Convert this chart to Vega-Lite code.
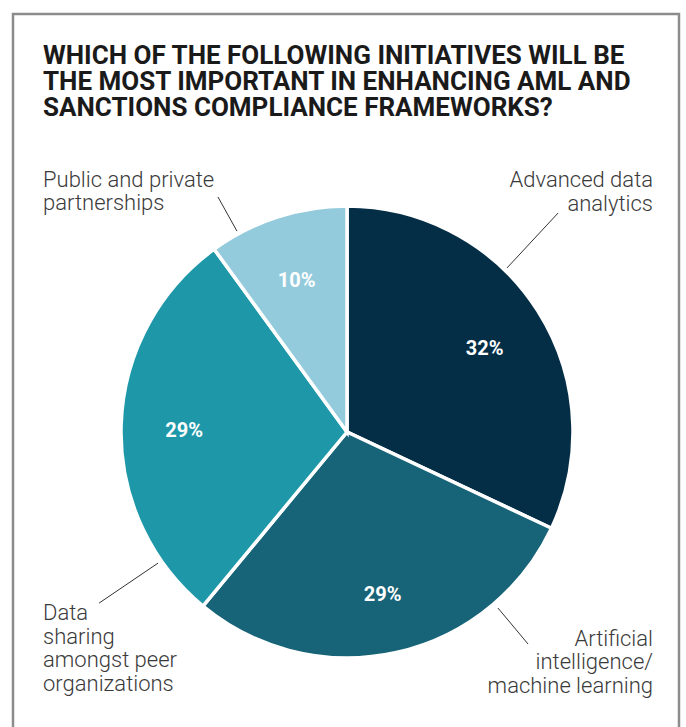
{
  "$schema": "https://vega.github.io/schema/vega-lite/v6.json",
  "autosize": {"type": "none"},
  "padding": {"left": 13, "top": 14, "right": 7, "bottom": -3},
  "width": 666,
  "height": 716,
  "background": "white",
  "config": {"view": {"stroke": "#8c8c8c", "strokeWidth": 2.5}, "font": "Roboto"},
  "title": {
    "text": ["WHICH OF THE FOLLOWING INITIATIVES WILL BE", "THE MOST IMPORTANT IN ENHANCING AML AND", "SANCTIONS COMPLIANCE FRAMEWORKS?"],
    "anchor": "start",
    "frame": "group",
    "orient": "top",
    "offset": -128,
    "dx": 30,
    "baseline": "alphabetic",
    "font": "Roboto",
    "fontSize": 26,
    "fontWeight": "bold",
    "color": "#1a1a1a",
    "lineHeight": 26.2
  },
  "datasets": {
    "slices": [
      {"category": "Advanced data analytics", "share": 0.32, "idx": 1},
      {"category": "Artificial intelligence/machine learning", "share": 0.29, "idx": 2},
      {"category": "Data sharing amongst peer organizations", "share": 0.29, "idx": 3},
      {"category": "Public and private partnerships", "share": 0.10, "idx": 4}
    ],
    "notes": [
      {"label": "Advanced data\nanalytics", "side": "right", "lx": 135.4, "ly": 108.4, "ax": 70.8, "ay": 72.6, "bx": 93.4, "by": 96.9},
      {"label": "Artificial\nintelligence/\nmachine learning", "side": "right", "lx": 135.4, "ly": -94.5, "ax": 66.8, "ay": -77.9, "bx": 80.1, "by": -93.8},
      {"label": "Data\nsharing\namongst peer\norganizations", "side": "left", "lx": -134.5, "ly": -83.2, "ax": -83.6, "ay": -58.0, "bx": -109.7, "by": -75.7},
      {"label": "Public and private\npartnerships", "side": "left", "lx": -134.5, "ly": 108.6, "ax": -57.1, "ay": 104.0, "bx": -48.7, "by": 88.9}
    ]
  },
  "layer": [
    {
      "data": {"name": "slices"},
      "mark": {"type": "arc", "outerRadius": 226, "stroke": "white", "strokeWidth": 3.5},
      "encoding": {
        "theta": {"field": "share", "type": "quantitative", "stack": true},
        "order": {"field": "idx", "type": "quantitative"},
        "color": {
          "field": "category",
          "type": "nominal",
          "scale": {
            "domain": ["Advanced data analytics", "Artificial intelligence/machine learning", "Data sharing amongst peer organizations", "Public and private partnerships"],
            "range": ["#042e46", "#176377", "#1e98a9", "#94cbdc"]
          },
          "legend": null
        },
        "x": {"datum": 0, "type": "quantitative", "scale": {"domain": [-147.79, 146.9], "zero": false, "nice": false}, "axis": null},
        "y": {"datum": 0, "type": "quantitative", "scale": {"domain": [-131.86, 184.96], "zero": false, "nice": false}, "axis": null}
      }
    },
    {
      "data": {"name": "slices"},
      "mark": {"type": "text", "radius": 163, "dy": 4, "fontSize": 20, "fontWeight": "bold", "color": "white", "font": "Roboto"},
      "encoding": {
        "theta": {"field": "share", "type": "quantitative", "stack": true},
        "order": {"field": "idx", "type": "quantitative"},
        "text": {"field": "share", "type": "quantitative", "format": ".0%"},
        "x": {"datum": 0, "type": "quantitative"},
        "y": {"datum": 0, "type": "quantitative"}
      }
    },
    {
      "data": {"name": "notes"},
      "mark": {"type": "rule", "color": "#333333", "strokeWidth": 1},
      "encoding": {
        "x": {"field": "ax", "type": "quantitative"},
        "y": {"field": "ay", "type": "quantitative"},
        "x2": {"field": "bx"},
        "y2": {"field": "by"}
      }
    },
    {
      "data": {"name": "notes"},
      "transform": [{"filter": "datum.side === 'right'"}],
      "mark": {"type": "text", "align": "right", "baseline": "alphabetic", "lineBreak": "\n", "lineHeight": 23.5, "fontSize": 22, "fontWeight": 300, "color": "#3a3a3a", "font": "Roboto"},
      "encoding": {
        "x": {"field": "lx", "type": "quantitative"},
        "y": {"field": "ly", "type": "quantitative"},
        "text": {"field": "label"}
      }
    },
    {
      "data": {"name": "notes"},
      "transform": [{"filter": "datum.side === 'left'"}],
      "mark": {"type": "text", "align": "left", "baseline": "alphabetic", "lineBreak": "\n", "lineHeight": 23.5, "fontSize": 22, "fontWeight": 300, "color": "#3a3a3a", "font": "Roboto"},
      "encoding": {
        "x": {"field": "lx", "type": "quantitative"},
        "y": {"field": "ly", "type": "quantitative"},
        "text": {"field": "label"}
      }
    }
  ]
}
